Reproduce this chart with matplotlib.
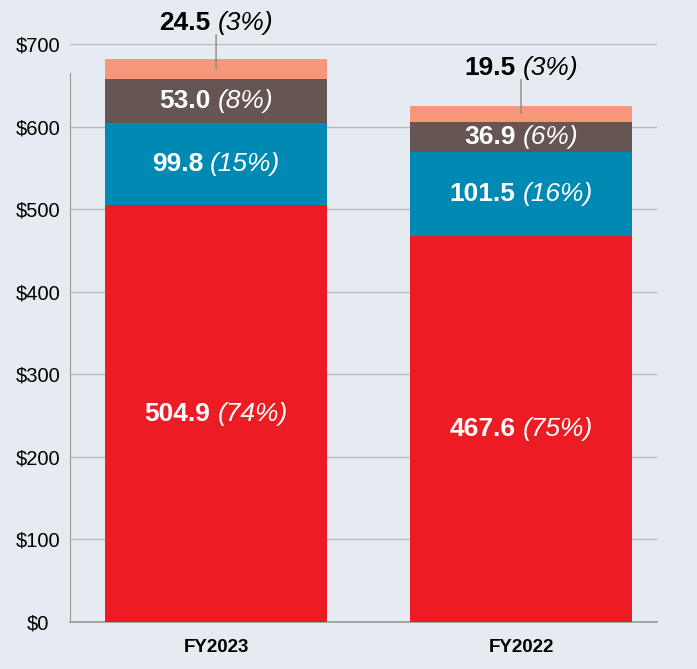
import matplotlib
matplotlib.use("Agg")
import matplotlib.pyplot as plt
from matplotlib.offsetbox import TextArea, HPacker, AnnotationBbox

# data
years = ["FY2023", "FY2022"]
seg_red = [504.9, 467.6]
seg_blue = [99.8, 101.5]
seg_brown = [53.0, 36.9]
seg_salmon = [24.5, 19.5]
pct_red = ["74%", "75%"]
pct_blue = ["15%", "16%"]
pct_brown = ["8%", "6%"]
pct_salmon = ["3%", "3%"]
yticks = [0, 100, 200, 300, 400, 500, 600, 700]

bg = "#E6EAF1"
colors = ["#ED1C24", "#008AB3", "#655653", "#F7977A"]

plt.rcParams["font.family"] = ["Liberation Sans", "DejaVu Sans"]

fig = plt.figure(figsize=(6.97, 6.69), dpi=100, facecolor=bg)
ax = fig.add_axes([70 / 697, 47 / 669, 587 / 697, 578 / 669], facecolor=bg)

x = [0, 1]
w = 0.728
fs = 19
segments = [seg_red, seg_blue, seg_brown, seg_salmon]
pcts = [pct_red, pct_blue, pct_brown, pct_salmon]
bottoms = [0.0, 0.0]
for i, seg in enumerate(segments):
    ax.bar(x, seg, width=w, bottom=bottoms, color=colors[i], zorder=3, linewidth=0)
    for j in range(len(x)):
        mid = bottoms[j] + seg[j] / 2
        if i < 3:
            a = TextArea(f"{seg[j]:.1f}", textprops=dict(color="white", fontsize=fs, fontweight="bold"))
            b = TextArea(f"({pcts[i][j]})", textprops=dict(color="white", fontsize=fs, fontstyle="italic"))
            box = HPacker(children=[a, b], align="baseline", pad=0, sep=5)
            ab = AnnotationBbox(box, (x[j], mid), frameon=False, zorder=5)
            ax.add_artist(ab)
        else:
            # leader line + label above the bar
            ax.annotate("", xy=(x[j], mid), xytext=(0, 34 / 1.389), textcoords="offset points",
                        arrowprops=dict(arrowstyle="-", color="#888888", lw=1, shrinkA=0, shrinkB=0),
                        annotation_clip=False, zorder=6)
            a = TextArea(f"{seg[j]:.1f}", textprops=dict(color="black", fontsize=fs, fontweight="bold"))
            b = TextArea(f"({pcts[i][j]})", textprops=dict(color="black", fontsize=fs, fontstyle="italic"))
            box = HPacker(children=[a, b], align="baseline", pad=0, sep=5)
            ab = AnnotationBbox(box, (x[j], mid), xybox=(0, 46 / 1.389), boxcoords="offset points",
                                frameon=False, zorder=6, annotation_clip=False)
            ax.add_artist(ab)
    bottoms = [bottoms[k] + seg[k] for k in range(len(x))]

ax.set_xlim(-0.479, 1.446)
ax.set_ylim(0, 700)
ax.set_xticks(x)
ax.set_xticklabels(years, fontsize=13.5, fontweight="bold")
ax.set_yticks(yticks)
ax.set_yticklabels([f"${v}" for v in yticks], fontsize=14.5, ha="center")
ax.tick_params(axis="y", length=0, pad=33 / 1.389 - 1)
ax.tick_params(axis="x", length=0, pad=12)

ax.yaxis.grid(True, color="#BBBBBB", linewidth=1, zorder=0)
ax.set_axisbelow(True)
for s in ["top", "right"]:
    ax.spines[s].set_visible(False)
ax.spines["left"].set_color("#999999")
ax.spines["left"].set_bounds(0, 665)
ax.spines["bottom"].set_color("#999999")
ax.spines["bottom"].set_linewidth(1.2)

fig.savefig("out.png", dpi=100, facecolor=bg)
